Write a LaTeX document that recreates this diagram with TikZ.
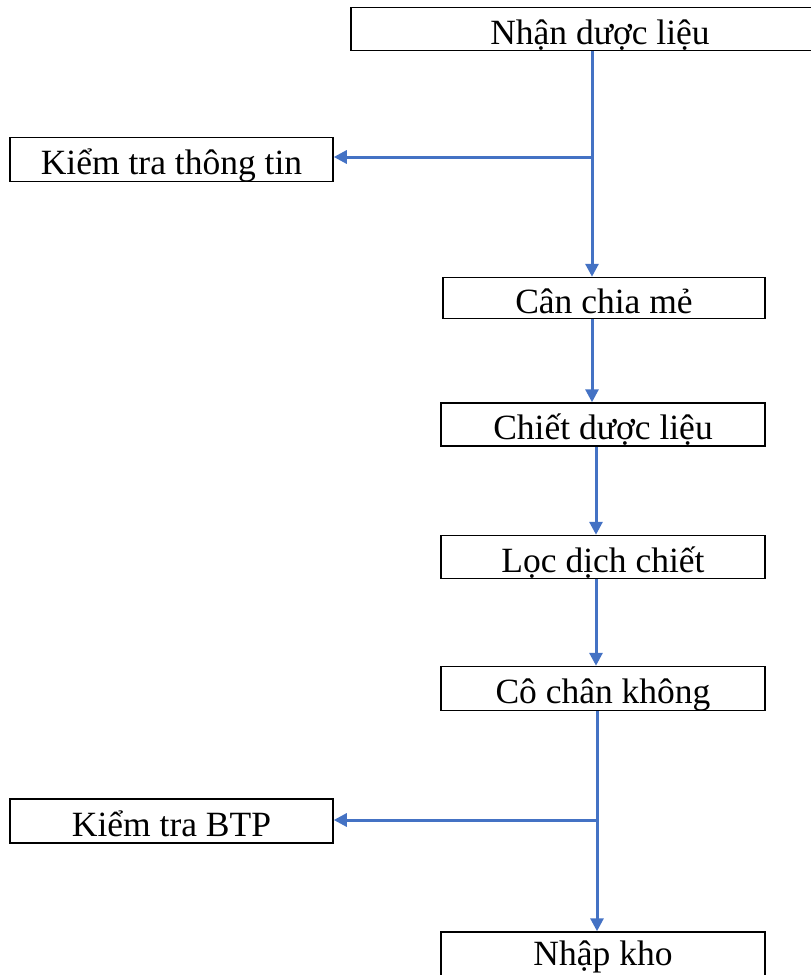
\documentclass[tikz,border=0pt]{standalone}
\usepackage{fontspec}
\setmainfont{Liberation Serif}
\usetikzlibrary{arrows.meta}
\definecolor{flowblue}{HTML}{4472C4}
\begin{document}
\begin{tikzpicture}[x=1pt,y=-1pt,
  stepbox/.style={draw=black, line width=1.5pt, inner sep=0pt, minimum height=43pt,
    text height=32pt, text depth=1.5pt,
    font=\fontsize{35.5}{40}\selectfont},
  flow/.style={draw=flowblue, line width=3pt, -{Triangle[length=13pt,width=13pt]}}]
\useasboundingbox (0,0) rectangle (811,975);
\begin{scope}
\clip (0,0) rectangle (811,975);
\node[stepbox, minimum width=498pt] (n1) at (600,29) {Nhận dược liệu};
\node[stepbox, minimum width=323pt, minimum height=44pt] (n2) at (171.5,159.5) {Kiểm tra thông tin};
\node[stepbox, minimum width=322pt, minimum height=41pt] (n3) at (604,298) {Cân chia mẻ};
\node[stepbox, minimum width=324pt] (n4) at (603,424.5) {Chiết dược liệu};
\node[stepbox, minimum width=324pt] (n5) at (603,557) {Lọc dịch chiết};
\node[stepbox, minimum width=324pt, minimum height=44pt] (n6) at (603,688.5) {Cô chân không};
\node[stepbox, minimum width=323pt, minimum height=44pt] (n7) at (171.5,821) {Kiểm tra BTP};
\node[stepbox, minimum width=324pt, minimum height=46pt, text height=22pt, text depth=2pt] (n8) at (603,955) {Nhập kho};
\end{scope}
\coordinate (j1) at (592,157);
\coordinate (j2) at (597,820);
\draw[flow] (n1.south -| j1) -- (n3.north -| j1);
\draw[flow] (j1) -- (n2.east |- j1);
\draw[flow] (n3.south -| j1) -- (n4.north -| j1);
\draw[flow] ([xshift=-1pt]n4.south -| j2) -- ([xshift=-1pt]n5.north -| j2);
\draw[flow] ([xshift=-1pt]n5.south -| j2) -- ([xshift=-1pt]n6.north -| j2);
\draw[flow] (n6.south -| j2) -- (n8.north -| j2);
\draw[flow] (j2) -- (n7.east |- j2);
\end{tikzpicture}
\end{document}
